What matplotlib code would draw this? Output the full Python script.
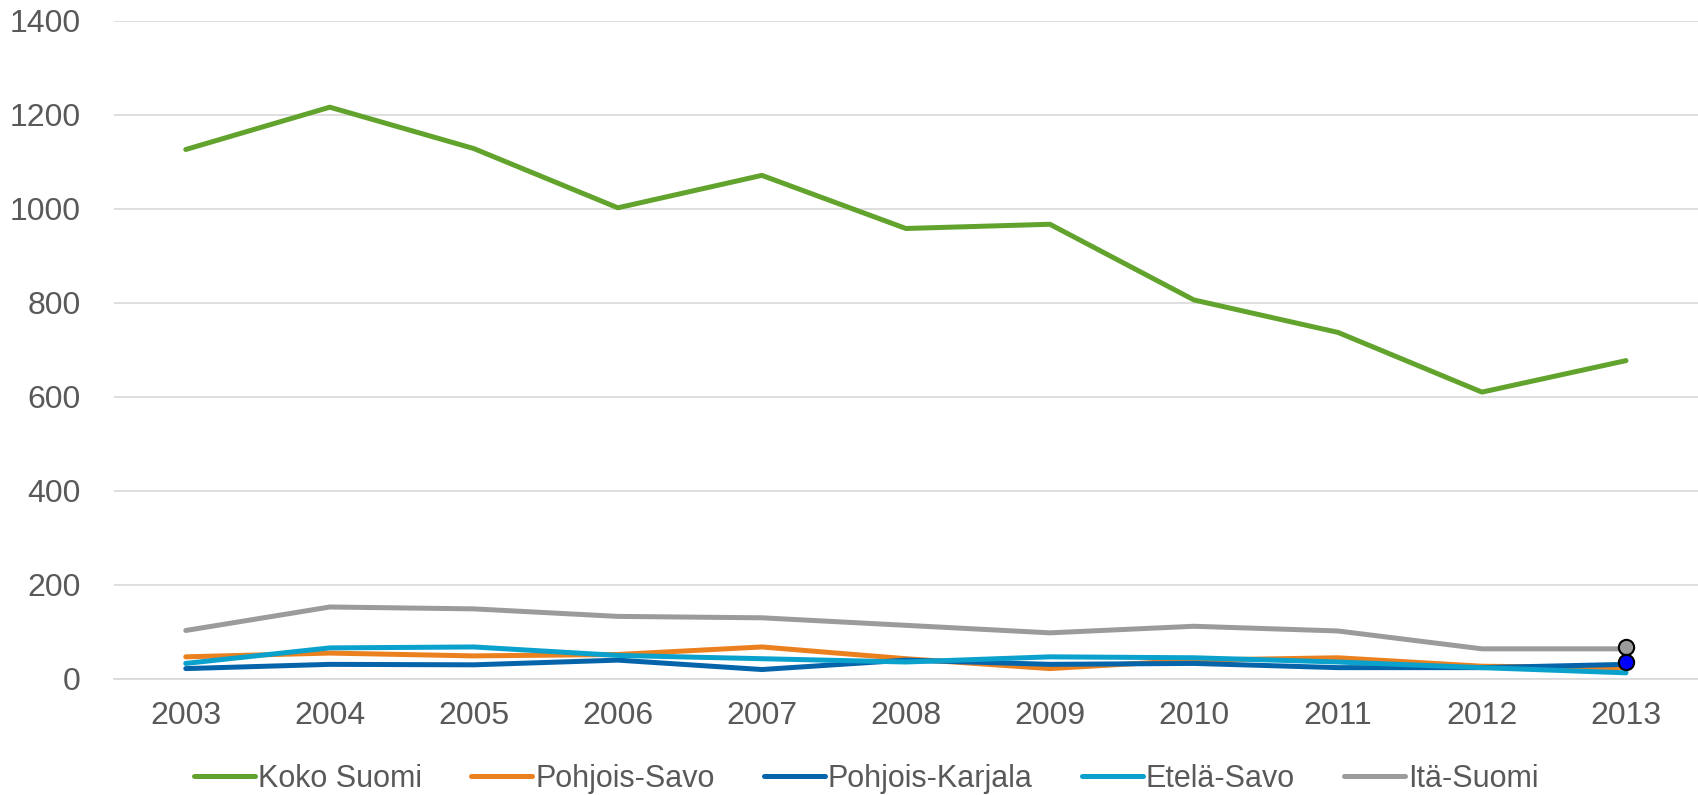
import matplotlib
matplotlib.use("Agg")
import matplotlib.pyplot as plt

years = [2003, 2004, 2005, 2006, 2007, 2008, 2009, 2010, 2011, 2012, 2013]
koko_suomi = [1126, 1216, 1128, 1002, 1071, 958, 967, 806, 737, 610, 677]
pohjois_savo = [47, 55, 49, 52, 68, 43, 22, 40, 45, 27, 24]
pohjois_karjala = [22, 31, 30, 40, 20, 40, 31, 33, 24, 24, 31]
etela_savo = [33, 66, 68, 50, 43, 36, 47, 45, 36, 24, 13]
ita_suomi = [103, 153, 149, 133, 130, 114, 98, 112, 102, 64, 64]

series = [
    ("Koko Suomi", koko_suomi, "#62A32E"),
    ("Pohjois-Savo", pohjois_savo, "#EB801F"),
    ("Pohjois-Karjala", pohjois_karjala, "#0665AA"),
    ("Etelä-Savo", etela_savo, "#0AA1CC"),
    ("Itä-Suomi", ita_suomi, "#9B9B9B"),
]

plt.rcParams['font.family'] = ['Liberation Sans', 'DejaVu Sans']

fig = plt.figure(figsize=(16.98, 7.95), dpi=100)
ax = fig.add_axes([0.067, 0.146, 0.933, 0.828])

for name, vals, col in series:
    ax.plot(years, vals, color=col, lw=3.6, label=name, solid_capstyle='round')

# highlighted points at the last year
ax.plot([years[-1]], [ita_suomi[-1] + 4], 'o', ms=11, mfc="#9B9B9B", mec="black", mew=1.5, zorder=5)
ax.plot([years[-1]], [pohjois_karjala[-1] + 5], 'o', ms=11, mfc="#0000FF", mec="black", mew=1.5, zorder=5)

ax.set_xlim(2002.5, 2013.5)
ax.set_ylim(0, 1400)
ax.set_yticks(range(0, 1401, 200))
ax.set_xticks(years)
ax.set_xticklabels([str(y) for y in years])
ax.grid(axis='y', color='#D9D9D9', lw=1.2)
ax.set_axisbelow(True)
for s in ['top', 'right', 'left']:
    ax.spines[s].set_visible(False)
ax.spines['bottom'].set_color('#D9D9D9')
ax.spines['bottom'].set_linewidth(1.2)
ax.tick_params(axis='both', length=0, labelsize=23, colors='#595959')
ax.tick_params(axis='y', pad=24)
ax.tick_params(axis='x', pad=16)

leg = ax.legend(loc='center', bbox_to_anchor=(0.475, -0.152), ncol=5, frameon=False,
                fontsize=22, handlelength=2.0, handletextpad=0.1, columnspacing=1.6,
                labelcolor='#595959')

fig.savefig("out.png", dpi=100)
